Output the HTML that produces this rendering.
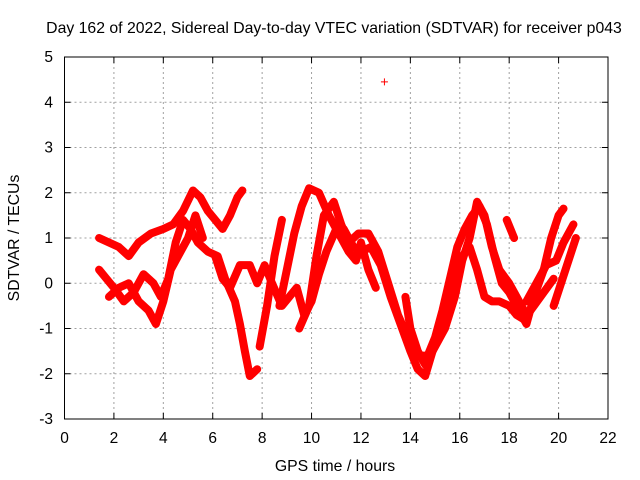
<!DOCTYPE html>
<html><head><meta charset="utf-8"><style>
body{margin:0;background:#fff;}
svg{display:block;font-family:"Liberation Sans",sans-serif;}
</style></head><body>
<svg id="chart" width="640" height="480" viewBox="0 0 640 480">
<rect width="640" height="480" fill="#fff"/>
<text x="334" y="33" font-size="15.8" text-anchor="middle" fill="#000">Day 162 of 2022, Sidereal Day-to-day VTEC variation (SDTVAR) for receiver p043</text>
<text x="19" y="238" font-size="15.8" text-anchor="middle" transform="rotate(-90 19 238)" fill="#000">SDTVAR / TECUs</text>
<text x="335" y="471" font-size="15.8" text-anchor="middle" fill="#000">GPS time / hours</text>
<g id="grid"></g>
<g id="marks"></g>
<g id="axes"></g>
</svg>
<script>
const xTicks=[0,2,4,6,8,10,12,14,16,18,20,22];
const yTicks=[-3,-2,-1,0,1,2,3,4,5];
const track1=[[1.4,1.0],[1.8,0.9],[2.2,0.8],[2.6,0.6],[3.0,0.9],[3.5,1.1],[4.0,1.2],[4.4,1.3],[4.8,1.6],[5.2,2.05],[5.5,1.9],[5.8,1.6],[6.1,1.4],[6.4,1.2],[6.7,1.5],[7.0,1.9],[7.2,2.05]];
const track2=[[1.4,0.3],[1.7,0.1],[2.0,-0.1],[2.4,-0.4],[2.8,-0.2],[3.2,0.2],[3.6,0.0],[3.9,-0.3],[4.2,0.1],[4.5,0.9],[4.8,1.4],[5.1,1.2],[5.4,0.9],[5.8,0.7],[6.2,0.6],[6.5,0.1],[6.9,-0.4],[7.1,-0.9],[7.3,-1.5],[7.5,-2.05],[7.8,-1.9]];
const track3=[[1.8,-0.3],[2.2,-0.1],[2.6,0.0],[3.0,-0.4],[3.4,-0.6],[3.7,-0.9],[4.0,-0.4],[4.3,0.3],[4.6,0.6],[5.0,1.0],[5.3,1.5],[5.6,1.0]];
const track4=[[6.1,0.6],[6.4,0.1],[6.7,-0.1],[7.1,0.4],[7.5,0.4],[7.8,0.0],[8.1,0.4],[8.4,0.0],[8.8,-0.5],[9.1,-0.3],[9.4,-0.1],[9.7,-0.7],[10.0,-0.4],[10.3,0.2],[10.6,0.7],[11.0,1.2],[11.3,1.2],[11.7,0.8],[12.0,0.7],[12.4,0.8],[12.8,0.4],[13.2,-0.3],[13.6,-0.9],[14.0,-1.5],[14.3,-1.9],[14.6,-2.05],[14.9,-1.5],[15.2,-1.0],[15.5,-0.3],[15.8,0.3],[16.1,0.6],[16.4,0.8],[16.7,0.3],[17.0,-0.3],[17.3,-0.4],[17.6,-0.4],[18.0,-0.5],[18.3,-0.7],[18.6,-0.8],[19.0,-0.5],[19.4,-0.2],[19.8,0.1]];
const track5=[[7.9,-1.4],[8.2,-0.5],[8.5,0.6],[8.8,1.4]];
const track6=[[8.7,-0.5],[9.0,0.3],[9.3,1.1],[9.6,1.7],[9.9,2.1],[10.3,2.0],[10.7,1.5],[11.1,1.1],[11.5,0.7],[11.8,0.5],[12.0,0.9],[12.3,0.3],[12.6,-0.1]];
const track7=[[9.5,-1.0],[9.9,-0.5],[10.2,0.6],[10.5,1.5],[10.9,1.8],[11.2,1.3],[11.5,0.9],[11.9,1.1],[12.3,1.1],[12.7,0.7],[13.1,0.0],[13.5,-0.7],[13.9,-1.2],[14.3,-1.6],[14.7,-1.6],[15.0,-1.2],[15.3,-0.6],[15.6,0.1],[15.9,0.8],[16.2,1.2],[16.5,1.5],[16.8,1.7],[17.1,1.3],[17.4,0.6],[17.7,0.0],[18.0,-0.2],[18.4,-0.6],[18.7,-0.9],[19.0,-0.3],[19.4,0.3],[19.7,1.0],[20.0,1.5],[20.2,1.65]];
const track8=[[13.8,-0.3],[14.0,-1.0],[14.3,-1.5],[14.6,-1.8],[15.0,-1.4],[15.4,-1.0],[15.8,-0.3],[16.1,0.5],[16.4,1.0],[16.7,1.8],[17.0,1.5],[17.3,0.8],[17.6,0.3],[18.0,0.0],[18.4,-0.4],[18.7,-0.7]];
const track9=[[17.9,1.4],[18.2,1.0]];
const track10=[[18.7,-0.4],[19.1,0.0],[19.5,0.4],[19.9,0.5],[20.2,0.9],[20.6,1.3]];
const track11=[[19.8,-0.5],[20.1,0.0],[20.4,0.5],[20.7,1.0]];
const outliers=[[12.95,4.45]];
const tracks=[track1,track2,track3,track4,track5,track6,track7,track8,track9,track10,track11];

const L=64.5,R=608,T=57,B=419;
const xS=v=>L+(v-0)/22*(R-L);
const yS=v=>B-(v+3)/8*(B-T);
const NS='http://www.w3.org/2000/svg';
function mk(tag,parent,attrs){const e=document.createElementNS(NS,tag);for(const k in attrs)e.setAttribute(k,attrs[k]);parent.appendChild(e);return e;}
const grid=document.getElementById('grid'),marks=document.getElementById('marks'),axes=document.getElementById('axes');
xTicks.forEach(t=>{
  const x=xS(t);
  if(t>0&&t<22){const g=mk('line',grid,{x1:x,y1:T,x2:x,y2:B,stroke:'#a0a0a0','stroke-dasharray':'2,3'});
  
  }
  mk('line',axes,{x1:x,y1:B,x2:x,y2:B-6,stroke:'#000'});
  mk('line',axes,{x1:x,y1:T,x2:x,y2:T+6,stroke:'#000'});
  const lb=mk('text',axes,{x:x,y:443,'font-size':15.5,'text-anchor':'middle',fill:'#000'});
  
  
  lb.textContent=t;
});
yTicks.forEach(t=>{
  const y=yS(t);
  if(t>-3&&t<5){const g=mk('line',grid,{x1:L,y1:y,x2:R,y2:y,stroke:'#a0a0a0','stroke-dasharray':'2,3'});
  
  }
  mk('line',axes,{x1:L,y1:y,x2:L+6,y2:y,stroke:'#000'});
  mk('line',axes,{x1:R,y1:y,x2:R-6,y2:y,stroke:'#000'});
  const lb=mk('text',axes,{x:53,y:y+5,'font-size':15.5,'text-anchor':'end',fill:'#000'});
  
  
  lb.textContent=t;
});
const frame=mk('rect',axes,{x:L,y:T,width:R-L,height:B-T,fill:'none',stroke:'#000'});


function plus(x,y){mk('path',marks,{d:`M${x-3.5},${y}h7M${x},${y-3.5}v7`,stroke:'#f00','stroke-width':1});}
tracks.forEach(tr=>{
  const pl=mk('polyline',marks,{points:tr.map(p=>xS(p[0])+','+yS(p[1])).join(' '),fill:'none',stroke:'#f00','stroke-width':8,'stroke-linejoin':'round','stroke-linecap':'round'});
  
  
  tr.forEach(p=>plus(xS(p[0]),yS(p[1])));
});
outliers.forEach(p=>plus(xS(p[0]),yS(p[1])));
</script>
</body></html>
